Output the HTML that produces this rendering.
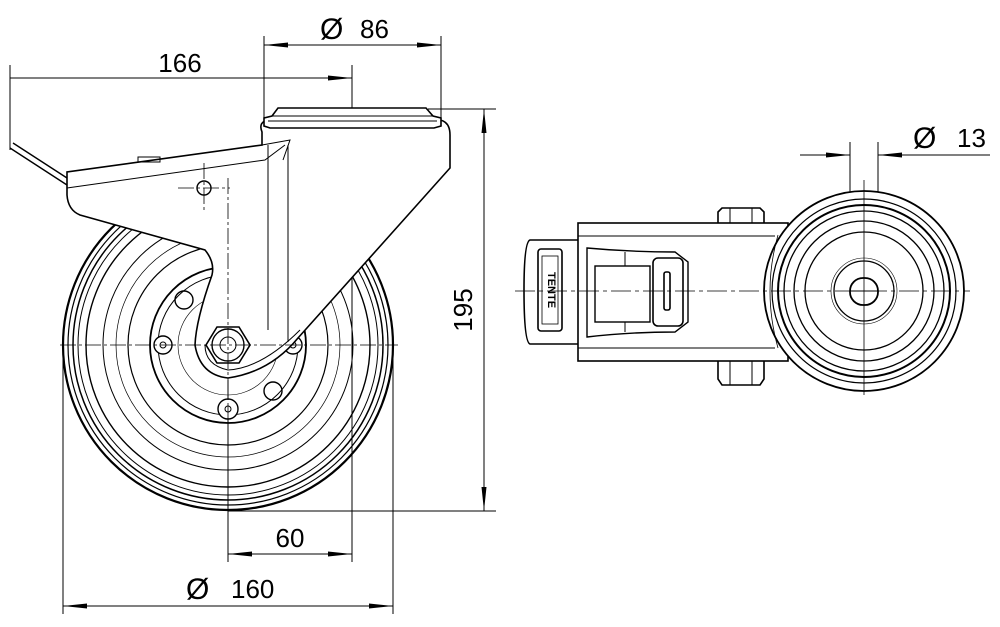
<!DOCTYPE html>
<html><head><meta charset="utf-8"><style>
html,body{margin:0;padding:0;background:#fff;}
svg{display:block}
text{font-family:"Liberation Sans",sans-serif;fill:#000}
</style></head><body>
<svg width="1000" height="627" viewBox="0 0 1000 627" xmlns="http://www.w3.org/2000/svg">
<defs>
<marker id="a" markerWidth="24" markerHeight="8" refX="24" refY="4" orient="auto" markerUnits="userSpaceOnUse"><path d="M0,1.5 L24,4 L0,6.5 Z" fill="#000"/></marker>
<marker id="b" markerWidth="24" markerHeight="8" refX="0" refY="4" orient="auto" markerUnits="userSpaceOnUse"><path d="M24,1.5 L0,4 L24,6.5 Z" fill="#000"/></marker>
</defs>
<g fill="none" stroke="#000" stroke-width="1">
<line x1="10" y1="65" x2="10" y2="150"/>
<line x1="352" y1="65" x2="352" y2="562"/>
<line x1="264" y1="36" x2="264" y2="118"/>
<line x1="441" y1="36" x2="441" y2="118"/>
<line x1="428" y1="109" x2="496" y2="109"/>
<line x1="228" y1="511" x2="496" y2="511"/>
<line x1="228" y1="380" x2="228" y2="562"/>
<line x1="63" y1="345" x2="63" y2="614"/>
<line x1="393" y1="345" x2="393" y2="614"/>
<line x1="850" y1="142" x2="850" y2="290"/>
<line x1="878" y1="142" x2="878" y2="290"/>
<line x1="264" y1="45" x2="441" y2="45" marker-start="url(#b)" marker-end="url(#a)"/>
<line x1="10" y1="78" x2="352" y2="78" marker-end="url(#a)"/>
<line x1="484" y1="109" x2="484" y2="511" marker-start="url(#b)" marker-end="url(#a)"/>
<line x1="228" y1="554" x2="352" y2="554" marker-start="url(#b)" marker-end="url(#a)"/>
<line x1="63" y1="606" x2="393" y2="606" marker-start="url(#b)" marker-end="url(#a)"/>
<line x1="800" y1="155" x2="850" y2="155" marker-end="url(#a)"/>
<line x1="878" y1="155" x2="990" y2="155" marker-start="url(#b)"/>

<circle cx="228" cy="345" r="165" stroke-width="2.2"/>
<circle cx="228" cy="345" r="160" stroke-width="1.2"/>
<circle cx="228" cy="345" r="155" stroke-width="1.5"/>
<circle cx="228" cy="345" r="150" stroke-width="1"/>
<circle cx="228" cy="345" r="142" stroke-width="1.4"/>
<circle cx="228" cy="345" r="125" stroke-width="1"/>
<circle cx="228" cy="345" r="112" stroke-width="0.7"/>
<circle cx="228" cy="345" r="100" stroke-width="1.2"/>
<circle cx="228" cy="345" r="78" stroke-width="1.8"/>
<circle cx="228" cy="345" r="70" stroke-width="1"/>
<circle cx="228" cy="345" r="50" stroke-width="0.6"/>
<circle cx="163" cy="345" r="9" fill="#fff" stroke-width="1.4"/><circle cx="163" cy="345" r="3"/>
<circle cx="293" cy="345" r="9" fill="#fff" stroke-width="1.4"/><circle cx="293" cy="345" r="3"/>
<circle cx="228" cy="409" r="10" fill="#fff" stroke-width="1.4"/><circle cx="228" cy="409" r="3"/>
<circle cx="184" cy="300" r="9" stroke-width="1.4"/>
<circle cx="273" cy="391" r="9" stroke-width="1.4"/>
<path d="M262,132 Q258,122 268,120 L440,120 Q450,122 450,135 L450,168 L298,338 Q270,372 228,378 Q200,375 195,345 Q196,320 212,275 Q215,262 205,250 L80,215 Q68,210 67,195 L67,172 L262,145 Z" fill="#fff" stroke-width="1.6"/>
<path d="M67,188 L265,160 L285,145"/>
<path d="M262,145 L290,140 L283,160"/>
<line x1="268" y1="145" x2="268" y2="330"/>
<line x1="288" y1="145" x2="288" y2="342"/>
<path d="M205,345 Q205,365 228,370 Q262,368 300,330" stroke-width="1"/>
<path d="M10,148 L67,185 M13,143 L67,178" stroke-width="1.4"/>
<rect x="138" y="157" width="22" height="5" stroke-width="1"/>
<path d="M278,108 L426,108 L433,116 L441,118 L441,126 L434,128 L270,128 L264,126 L264,118 L272,116 Z" fill="#fff" stroke-width="1.6"/>
<line x1="272" y1="116" x2="433" y2="116"/><line x1="268" y1="121" x2="437" y2="121"/>
<polygon points="217,327 239,327 250,345 239,363 217,363 206,345" fill="#fff" stroke-width="1.6"/>
<circle cx="228" cy="345" r="16" stroke-width="1.4"/>
<circle cx="228" cy="345" r="8"/>
<circle cx="204" cy="188" r="7" stroke-width="1.4"/>
<g stroke-width="0.8" stroke-dasharray="16,3,3,3">
<line x1="60" y1="345" x2="398" y2="345"/>
<line x1="228" y1="178" x2="228" y2="505"/>
<line x1="178" y1="188" x2="230" y2="188"/>
<line x1="204" y1="163" x2="204" y2="212"/>
</g>

<rect x="578" y="223" width="210" height="138" fill="#fff" stroke-width="1.6"/>
<line x1="578" y1="236" x2="775" y2="236"/><line x1="578" y1="348" x2="775" y2="348"/>
<path d="M718,223 L718,212 L722,208 L760,208 L764,212 L764,223" stroke-width="1.6"/>
<path d="M718,361 L718,379 L722,385 L760,385 L764,379 L764,361" stroke-width="1.6"/>
<line x1="730" y1="208" x2="730" y2="223"/><line x1="752" y1="208" x2="752" y2="223"/>
<line x1="730" y1="361" x2="730" y2="385"/><line x1="752" y1="361" x2="752" y2="385"/>
<path d="M578,240 L530,240 Q524,242 524,290 Q524,342 530,344 L578,344" stroke-width="1.6"/>
<rect x="538" y="249" width="24" height="82" rx="3" stroke-width="1.6"/>
<rect x="542" y="256" width="16" height="68" stroke-width="0.8"/>
<path d="M587,248 Q630,252 675,252 L688,262 L688,322 L675,332 Q630,332 587,337 Z" stroke-width="1.4"/>
<rect x="595" y="266" width="55" height="56" stroke-width="1.4"/>
<line x1="625" y1="252" x2="625" y2="266"/><line x1="625" y1="322" x2="625" y2="332"/>
<rect x="653" y="258" width="30" height="68" rx="5" fill="#fff" stroke-width="1.6"/>
<rect x="664" y="272" width="6" height="38" rx="2" stroke-width="1.6"/>
<circle cx="864" cy="291" r="100" fill="#fff" stroke-width="1.8"/>
<circle cx="864" cy="291" r="92" stroke-width="1.2"/>
<circle cx="864" cy="291" r="86" stroke-width="2"/>
<circle cx="864" cy="291" r="80" stroke-width="1.3"/>
<circle cx="864" cy="291" r="70" stroke-width="1.3"/>
<circle cx="864" cy="291" r="59" stroke-width="1.3"/>
<circle cx="864" cy="291" r="30" stroke-width="1.3"/>
<circle cx="864" cy="291" r="33" stroke-width="0.6"/>
<rect x="850" y="278" width="28" height="27" rx="13" stroke-width="1.8"/>
<line x1="850" y1="291" x2="878" y2="291"/>
<path d="M778,235 Q762,291 778,348" stroke-width="0.8"/>
<line x1="864" y1="180" x2="864" y2="395" stroke-width="0.8"/>
<line x1="515" y1="291" x2="970" y2="291" stroke-width="0.8" stroke-dasharray="20,4,4,4"/>
</g>
<text x="551" y="290" font-size="11" font-weight="bold" transform="rotate(90 551 290)" text-anchor="middle" dominant-baseline="middle">TENTE</text>
<text x="180" y="72" font-size="26" text-anchor="middle">166</text>
<text x="320" y="39" font-size="30">Ø</text><text x="360" y="38" font-size="26">86</text>
<text x="472" y="310" font-size="26" text-anchor="middle" transform="rotate(-90 472 310)">195</text>
<text x="290" y="547" font-size="26" text-anchor="middle">60</text>
<text x="186" y="599" font-size="30">Ø</text><text x="231" y="598" font-size="26">160</text>
<text x="913" y="148" font-size="30">Ø</text><text x="957" y="147" font-size="26">13</text>
</svg>
</body></html>
